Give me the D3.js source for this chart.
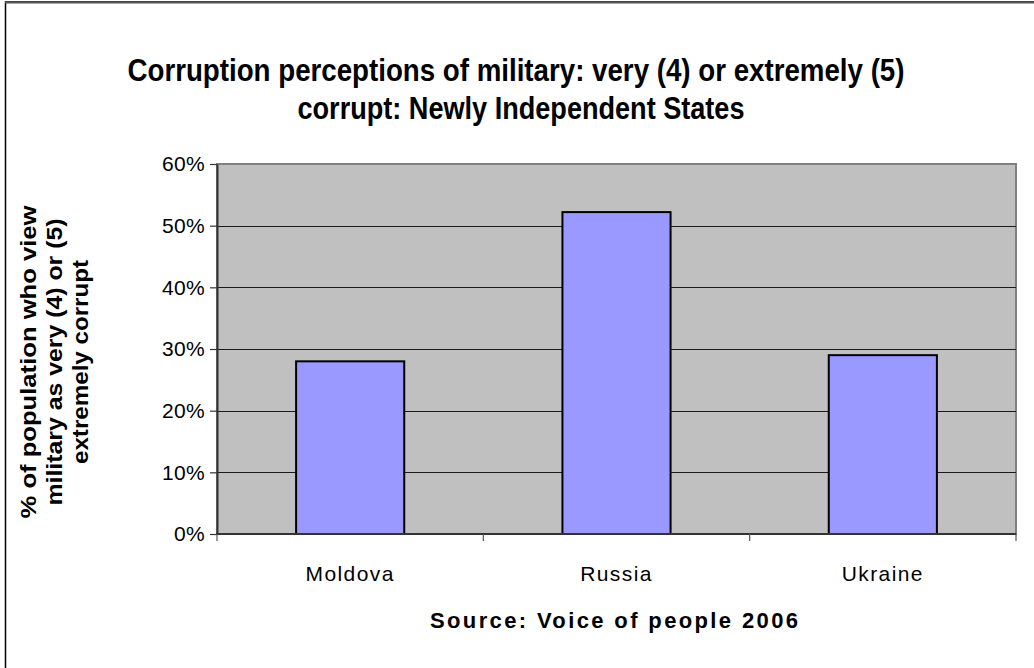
<!DOCTYPE html>
<html>
<head>
<meta charset="utf-8">
<script src="https://cdn.jsdelivr.net/npm/d3@7"></script>
<style>
  html, body { margin: 0; padding: 0; background: #ffffff; }
  svg { display: block; }
</style>
</head>
<body>
<svg id="chart" width="1034" height="668"></svg>
<script>
// ---- data ----
const categories = ["Moldova", "Russia", "Ukraine"];
const values = [0.28, 0.522, 0.29];
const yTicks = [0, 0.1, 0.2, 0.3, 0.4, 0.5, 0.6];
const titleLines = ["Corruption perceptions of military: very (4) or extremely (5)",
                    "corrupt: Newly Independent States"];
const yLabelLines = ["% of population who view", "military as very (4) or (5)", "extremely corrupt"];
const xLabel = "Source: Voice of people 2006";

// ---- layout ----
const W = 1034, H = 668;
const plot = { left: 217, right: 1016, top: 164, bottom: 534 };
const svg = d3.select("#chart");
const FONT = "'Liberation Sans', Arial, sans-serif";

// outer chart border (extends past the right/bottom edges)
svg.append("rect")
  .attr("x", 5.5).attr("y", 2).attr("width", 1200).attr("height", 1000)
  .attr("fill", "#fff").attr("stroke", "#000").attr("stroke-width", 1.5);
svg.append("line").attr("x1", 5).attr("x2", W).attr("y1", 2.5).attr("y2", 2.5)
  .attr("stroke", "#555").attr("stroke-width", 2);

const x = d3.scaleBand().domain(categories).range([plot.left, plot.right]).padding(0);
const y = d3.scaleLinear().domain([0, 0.6]).range([plot.bottom, plot.top]);

// plot background
svg.append("rect")
  .attr("x", plot.left).attr("y", plot.top)
  .attr("width", plot.right - plot.left).attr("height", plot.bottom - plot.top)
  .attr("fill", "#c0c0c0").attr("stroke", "#808080").attr("stroke-width", 2);

// gridlines
svg.append("g").selectAll("line").data(yTicks.filter(d => d > 0 && d < 0.6)).join("line")
  .attr("x1", plot.left).attr("x2", plot.right)
  .attr("y1", d => Math.round(y(d)) + 0.5).attr("y2", d => Math.round(y(d)) + 0.5)
  .attr("stroke", "#1a1a1a").attr("stroke-width", 1.2);

// bars
const barW = x.bandwidth() * 0.406;
svg.append("g").selectAll("rect").data(categories).join("rect")
  .attr("x", d => x(d) + (x.bandwidth() - barW) / 2)
  .attr("y", (d, i) => y(values[i]))
  .attr("width", barW)
  .attr("height", (d, i) => y(0) - y(values[i]))
  .attr("fill", "#9999ff").attr("stroke", "#000").attr("stroke-width", 2);

// y axis
const yAxis = d3.axisLeft(y).tickValues(yTicks).tickFormat(d3.format(".0%"))
  .tickSizeInner(7).tickSizeOuter(0).tickPadding(5);
const gy = svg.append("g").attr("transform", `translate(${plot.left},0)`).call(yAxis);
gy.select(".domain").attr("stroke", "#333").attr("stroke-width", 2);
gy.selectAll(".tick line").attr("stroke", "#333").attr("stroke-width", 1.2);
gy.selectAll(".tick text").attr("font-family", FONT).attr("font-size", 21)
  .attr("letter-spacing", 0.3).attr("fill", "#000");

// x axis
const gx = svg.append("g").attr("transform", `translate(0,${plot.bottom})`);
gx.append("line").attr("x1", plot.left - 1).attr("x2", plot.right)
  .attr("y1", 0).attr("y2", 0).attr("stroke", "#333").attr("stroke-width", 2);
const bounds = categories.map(c => x(c)).concat([x(categories[categories.length - 1]) + x.bandwidth()]);
gx.selectAll("line.tk").data(bounds).join("line").attr("class", "tk")
  .attr("x1", d => d).attr("x2", d => d).attr("y1", 0).attr("y2", 7)
  .attr("stroke", "#555").attr("stroke-width", 1.2);
gx.selectAll("text").data(categories).join("text")
  .attr("x", d => x(d) + x.bandwidth() / 2).attr("y", 47)
  .attr("text-anchor", "middle").attr("font-family", FONT).attr("font-size", 21)
  .attr("letter-spacing", 1.4).text(d => d);

// title
const titleX = [516, 521], titleLen = [777, 447];
svg.append("g").selectAll("text").data(titleLines).join("text")
  .attr("x", (d, i) => titleX[i]).attr("y", (d, i) => 81 + i * 38)
  .attr("text-anchor", "middle").attr("font-family", FONT).attr("font-weight", "bold")
  .attr("font-size", 31)
  .attr("textLength", (d, i) => titleLen[i])
  .attr("lengthAdjust", "spacingAndGlyphs")
  .text(d => d);

// y label
const yLabLen = [313, 287, 204];
svg.append("g").attr("transform", `translate(0,362) rotate(-90)`)
  .selectAll("text").data(yLabelLines).join("text")
  .attr("x", 0).attr("y", (d, i) => 36 + i * 26)
  .attr("text-anchor", "middle").attr("font-family", FONT).attr("font-weight", "bold")
  .attr("font-size", 22)
  .attr("textLength", (d, i) => yLabLen[i]).attr("lengthAdjust", "spacingAndGlyphs")
  .text(d => d);

// x label
svg.append("text").attr("x", 614).attr("y", 628)
  .attr("text-anchor", "middle").attr("font-family", FONT).attr("font-weight", "bold")
  .attr("font-size", 22).attr("textLength", 368).attr("lengthAdjust", "spacing").text(xLabel);
</script>
</body>
</html>
